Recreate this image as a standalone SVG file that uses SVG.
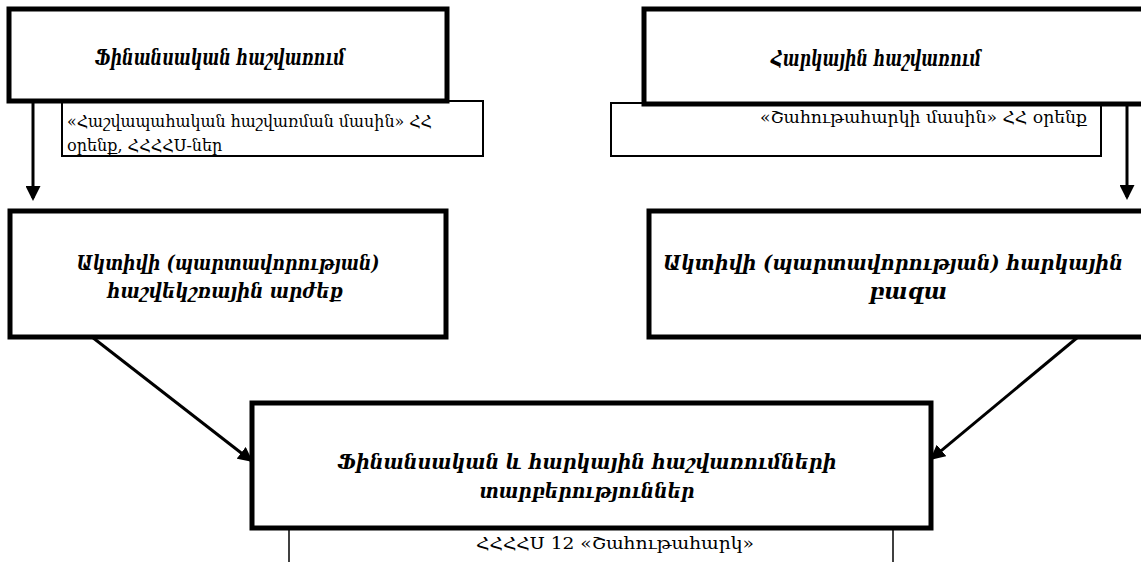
<svg xmlns="http://www.w3.org/2000/svg" width="1141" height="562" viewBox="0 0 1141 562">
<style>
.thick{fill:#fff;stroke:#000;stroke-width:5}
.thin{fill:#fff;stroke:#000;stroke-width:2}
.big{font-family:"DejaVu Serif","Liberation Serif",serif;font-size:21px;font-weight:bold;font-style:italic;fill:#000;text-anchor:middle}
.small{font-family:"DejaVu Serif","Liberation Serif",serif;font-size:16px;fill:#000}
.conn{stroke:#000;stroke-width:3;fill:none}
</style>
<defs>
<marker id="ah" markerWidth="5" markerHeight="5" refX="4" refY="2.5" orient="auto" markerUnits="strokeWidth">
<path d="M0,0 L5,2.5 L0,5 Z" fill="#000"/>
</marker>
</defs>
<g id="sub1">
<rect class="thin" x="62" y="101" width="421" height="55"/>
<text class="small" x="67" y="127" textLength="365" lengthAdjust="spacingAndGlyphs">«Հաշվապահական հաշվառման մասին» ՀՀ</text>
<text class="small" x="67" y="151">օրենք, ՀՀՀՀՍ-ներ</text>
</g>
<g id="sub2">
<rect class="thin" x="611" y="103" width="490" height="53"/>
<text class="small" x="760" y="123" textLength="327" lengthAdjust="spacingAndGlyphs">«Շահութահարկի մասին» ՀՀ օրենք</text>
</g>
<g id="box1">
<rect class="thick" x="9" y="9" width="438" height="92"/>
<text class="big" x="220" y="65" textLength="250" lengthAdjust="spacingAndGlyphs" style="font-size:22px">Ֆինանսական հաշվառում</text>
</g>
<g id="box2">
<rect class="thick" x="644" y="9" width="510" height="95"/>
<text class="big" x="876" y="66" textLength="210" lengthAdjust="spacingAndGlyphs" style="font-size:22px">Հարկային հաշվառում</text>
</g>
<g id="box3">
<rect class="thick" x="10" y="211" width="436" height="126"/>
<text class="big" x="228" y="270" textLength="303" lengthAdjust="spacingAndGlyphs">Ակտիվի (պարտավորության)</text>
<text class="big" x="225" y="298" textLength="236" lengthAdjust="spacingAndGlyphs">հաշվեկշռային արժեք</text>
</g>
<g id="box4">
<rect class="thick" x="649" y="211" width="505" height="126"/>
<text class="big" x="893" y="270" textLength="460" lengthAdjust="spacingAndGlyphs" style="font-size:20px">Ակտիվի (պարտավորության) հարկային</text>
<text class="big" x="908" y="299" style="font-size:22px">բազա</text>
</g>
<g id="box5">
<rect class="thick" x="252" y="403" width="679" height="125"/>
<text class="big" x="587" y="469" textLength="499" lengthAdjust="spacingAndGlyphs">Ֆինանսական և հարկային հաշվառումների</text>
<text class="big" x="587" y="498" textLength="215" lengthAdjust="spacingAndGlyphs">տարբերություններ</text>
</g>
<g id="bottom-note">
<line x1="289" y1="528" x2="289" y2="562" stroke="#000" stroke-width="1.5"/>
<line x1="893" y1="528" x2="893" y2="562" stroke="#000" stroke-width="1.5"/>
<text class="small" x="615" y="549" text-anchor="middle" textLength="278" lengthAdjust="spacingAndGlyphs" style="font-size:17px">ՀՀՀՀՍ 12 «Շահութահարկ»</text>
</g>
<g id="connectors">
<line class="conn" x1="33" y1="103" x2="33" y2="198" marker-end="url(#ah)"/>
<line class="conn" x1="1127" y1="106" x2="1127" y2="197" marker-end="url(#ah)"/>
<line class="conn" x1="92" y1="337" x2="250.6" y2="460.2" marker-end="url(#ah)"/>
<line class="conn" x1="1078" y1="337" x2="932.3" y2="458.1" marker-end="url(#ah)"/>
</g>
</svg>
